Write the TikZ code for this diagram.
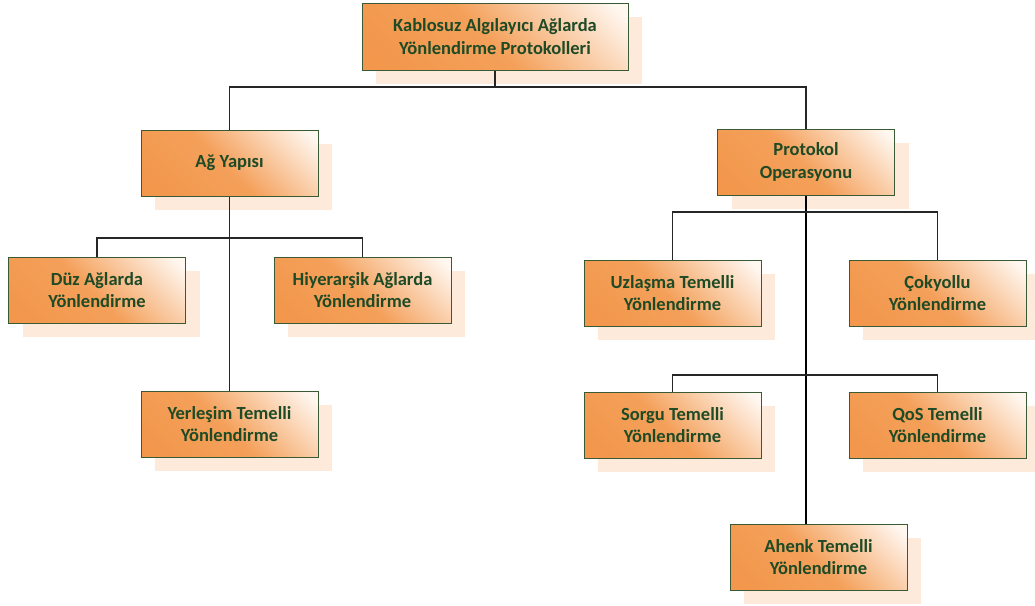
\documentclass[tikz,border=0pt]{standalone}
\usepackage{fontspec}
\setmainfont{Carlito}
\usetikzlibrary{shadows}

\definecolor{boxorange}{HTML}{F4A05A}
\definecolor{boxdeep}{HTML}{F2974C}
\definecolor{boxpale}{HTML}{FFF7F0}
\definecolor{boxedge}{HTML}{3A5A35}
\definecolor{boxtext}{HTML}{1E4A26}
\definecolor{shadowpeach}{HTML}{FDEADB}
\definecolor{linkgray}{HTML}{262626}

% orange body that brightens towards the upper right corner
\pgfdeclareverticalshading{boxglow}{100bp}{%
  color(0bp)=(boxdeep); color(20bp)=(boxdeep); color(48bp)=(boxorange);
  color(82bp)=(boxpale); color(100bp)=(boxpale)}

\tikzset{
  blk/.style={rectangle, draw=boxedge, line width=1pt, shading=boxglow,
    shading angle=-45, minimum width=177pt, minimum height=66pt, inner sep=0pt,
    align=center, text=boxtext, font=\bfseries\fontsize{18.5}{22.5}\selectfont,
    drop shadow={shadow xshift=14pt, shadow yshift=-14pt, fill=shadowpeach, opacity=1}},
  link/.style={draw=linkgray, line width=1.2pt},
  trunk/.style={draw=black, line width=2.2pt}
}

\begin{document}
\begin{tikzpicture}[x=1pt, y=-1pt]
\useasboundingbox (0,0) rectangle (1035,605);

\node[blk, minimum width=266pt, minimum height=67pt] (top) at (495,36.5)
  {Kablosuz Algılayıcı Ağlarda\\Yönlendirme Protokolleri};

\node[blk] (ag)   at (229.5,163) {Ağ Yapısı};
\node[blk] (prot) at (806,162)   {Protokol\\Operasyonu};

\node[blk] (duz) at (97,290)    {Düz Ağlarda\\Yönlendirme};
\node[blk] (hiy) at (362.5,290) {Hiyerarşik Ağlarda\\Yönlendirme};
\node[blk] (yer) at (229.5,424) {Yerleşim Temelli\\Yönlendirme};

\node[blk] (uzl) at (672.5,293)  {Uzlaşma Temelli\\Yönlendirme};
\node[blk] (cok) at (937.5,293)  {Çokyollu\\Yönlendirme};
\node[blk] (sor) at (672.5,425)  {Sorgu Temelli\\Yönlendirme};
\node[blk] (qos) at (937.5,425)  {QoS Temelli\\Yönlendirme};
\node[blk] (ahe) at (818.5,557)  {Ahenk Temelli\\Yönlendirme};

% first level
\draw[link] (top.south) -- (top.south |- 0,87);
\draw[link] (ag.north) |- (prot.north |- 0,87) -- (prot.north);

% network structure branch
\draw[link] (ag.south) -- (yer.north);
\draw[link] (duz.north) |- (hiy.north |- 0,238) -- (hiy.north);

% protocol operation branch
\draw[trunk] (prot.south) -- (prot.south |- ahe.north);
\draw[link] (uzl.north) |- (cok.north |- 0,212) -- (cok.north);
\draw[link] (sor.north) |- (qos.north |- 0,375) -- (qos.north);
\end{tikzpicture}
\end{document}
